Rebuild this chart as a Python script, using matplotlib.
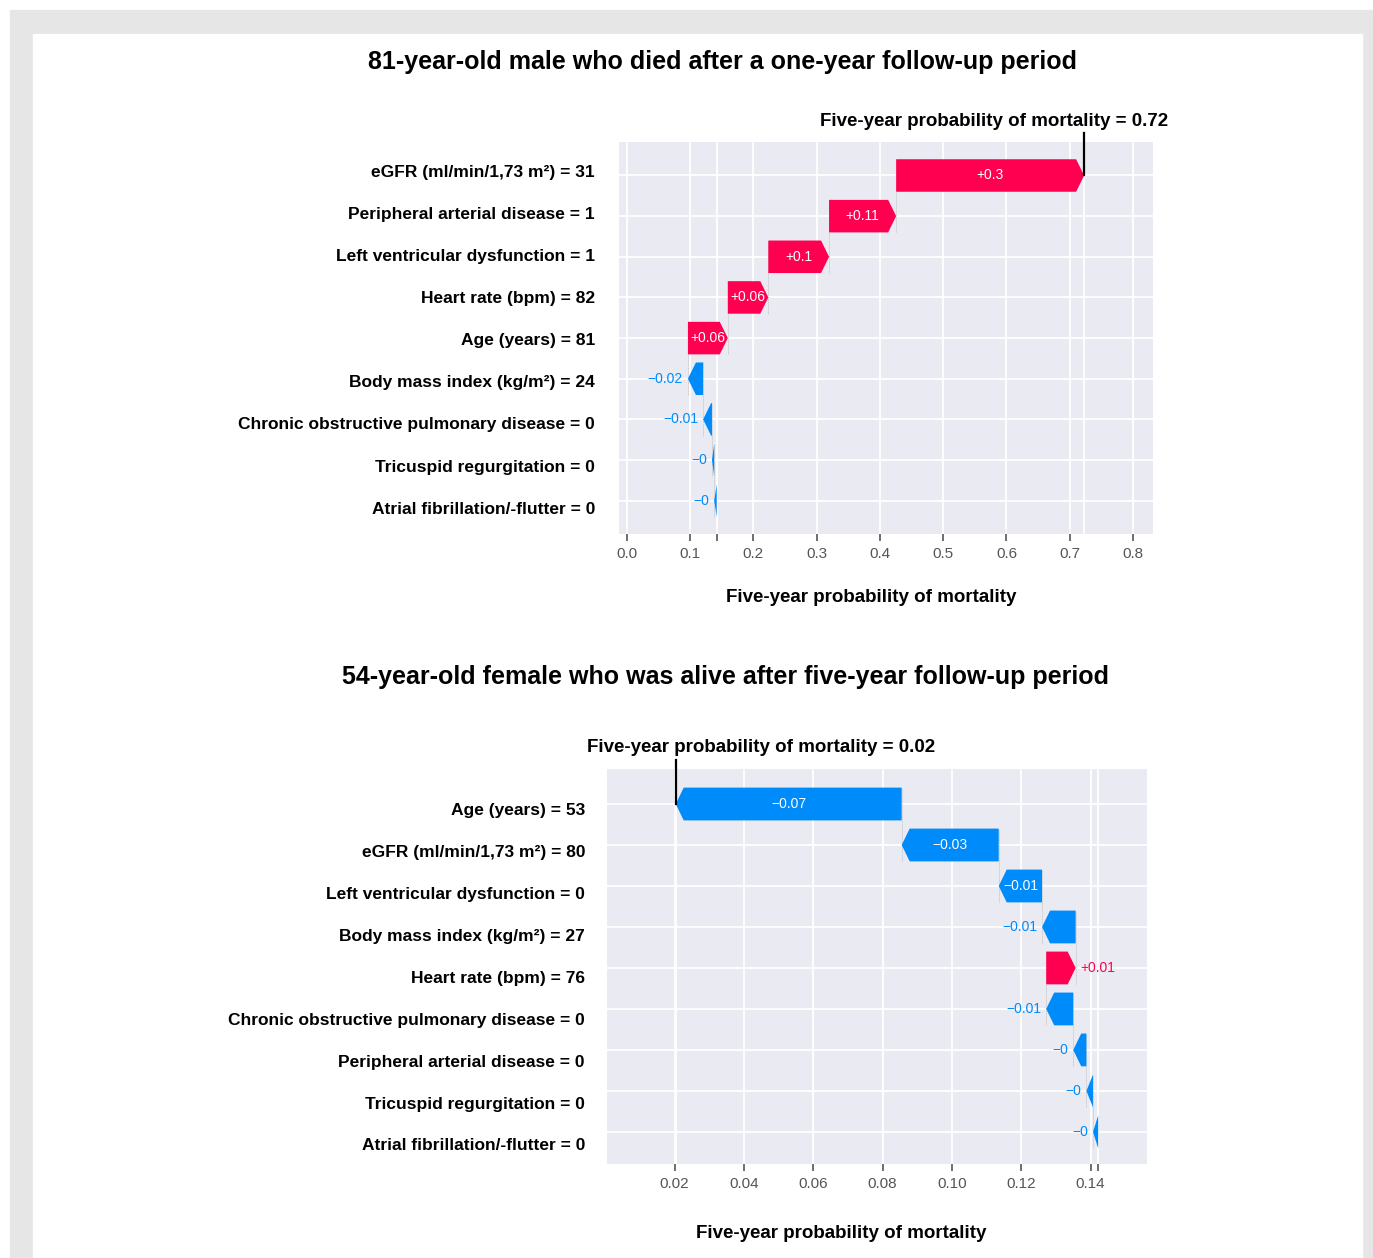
import matplotlib
matplotlib.use("Agg")
import matplotlib.pyplot as plt
from matplotlib.patches import Rectangle, FancyArrow

plt.rcParams['font.family'] = ['Liberation Sans', 'DejaVu Sans']

# ---------------------------------------------------------------- data
base_value = 0.1422

case1_title = "81-year-old male who died after a one-year follow-up period"
case1_features = [
    "eGFR (ml/min/1,73 m²) = 31",
    "Peripheral arterial disease = 1",
    "Left ventricular dysfunction = 1",
    "Heart rate (bpm) = 82",
    "Age (years) = 81",
    "Body mass index (kg/m²) = 24",
    "Chronic obstructive pulmonary disease = 0",
    "Tricuspid regurgitation = 0",
    "Atrial fibrillation/-flutter = 0",
]
case1_values = [0.297, 0.106, 0.096, 0.064, 0.063, -0.024, -0.014, -0.0035, -0.004]
case1_ticks = [0.0, 0.1, 0.2, 0.3, 0.4, 0.5, 0.6, 0.7, 0.8]
case1_tick_labels = ["0.0", "0.1", "0.2", "0.3", "0.4", "0.5", "0.6", "0.7", "0.8"]

case2_title = "54-year-old female who was alive after five-year follow-up period"
case2_features = [
    "Age (years) = 53",
    "eGFR (ml/min/1,73 m²) = 80",
    "Left ventricular dysfunction = 0",
    "Body mass index (kg/m²) = 27",
    "Heart rate (bpm) = 76",
    "Chronic obstructive pulmonary disease = 0",
    "Peripheral arterial disease = 0",
    "Tricuspid regurgitation = 0",
    "Atrial fibrillation/-flutter = 0",
]
case2_values = [-0.0652, -0.028, -0.0125, -0.0097, 0.0085, -0.0078, -0.0038, -0.0019, -0.0015]
case2_ticks = [0.02, 0.04, 0.06, 0.08, 0.10, 0.12, 0.14]
case2_tick_labels = ["0.02", "0.04", "0.06", "0.08", "0.10", "0.12", "0.14"]

outcome_label = "Five-year probability of mortality"

# ---------------------------------------------------------------- style
RED = "#ff0051"
BLUE = "#008bfb"
PANEL = "#eaeaf2"
FRAME = "#e5e6e5"
TICK_COLOR = "#555555"

W, H = 1373, 1258
DPI = 100
fig = plt.figure(figsize=(W / DPI, H / DPI), dpi=DPI, facecolor="white")


def px_box(x0, y0, x1, y1):
    """Pixel box (top-left origin) -> figure-fraction rect."""
    return [x0 / W, 1 - y1 / H, (x1 - x0) / W, (y1 - y0) / H]


# page frame
fig.add_artist(Rectangle((10 / W, 0), 1 - 10 / W, (H - 10) / H,
                         transform=fig.transFigure, color=FRAME, zorder=-10))
fig.add_artist(Rectangle((33 / W, 0), (1362 - 33) / W, (H - 34) / H,
                         transform=fig.transFigure, color="white", zorder=-9))


def fmt(v):
    s = ("%+0.02f" % v).rstrip("0").rstrip(".")
    return s.replace("-", "\u2212")


def waterfall(box, features, values, ticks, tick_labels, xlim, ylim,
              label_x_right, label_y0, label_step,
              fx_text_pos, xlabel_pos):
    ax = fig.add_axes(px_box(*box))
    ax.set_facecolor(PANEL)
    for s in ax.spines.values():
        s.set_visible(False)
    ax.set_xlim(*xlim)
    ax.set_ylim(*ylim)
    n = len(features)

    fx = base_value + sum(values)

    ax.set_xticks(list(ticks) + [base_value])
    ax.set_xticklabels(list(tick_labels) + [""])
    ax.tick_params(axis="x", length=5, width=1.2, color=TICK_COLOR,
                   labelcolor=TICK_COLOR, labelsize=11, pad=4.5)
    ax.set_yticks(range(n))
    ax.set_yticklabels([])
    ax.tick_params(axis="y", length=0)
    ax.grid(True, color="white", lw=1.3, zorder=0)
    ax.set_axisbelow(True)
    ax.axvline(fx, color="white", lw=1.3, zorder=0.5)

    # geometry for arrow heads and label fitting
    ax_w_px = box[2] - box[0]
    x_per_px = (xlim[1] - xlim[0]) / ax_w_px
    head_len = 8 * x_per_px
    renderer = fig.canvas.get_renderer()

    cum = base_value
    for r in reversed(range(n)):
        v = values[r]
        start = cum
        cum = start + v
        color = RED if v > 0 else BLUE
        ax.add_patch(FancyArrow(start, r, v, 0, width=0.8, head_width=0.8,
                                head_length=min(abs(v), head_len),
                                length_includes_head=True, color=color,
                                lw=0, zorder=3))
        if r > 0:
            ax.plot([cum, cum], [r + 0.4, r - 1.4], color="#bbbbbb",
                    lw=0.6, dashes=(1, 1), zorder=2)
        label = fmt(v)
        txt = ax.text(start + v / 2, r, label, color="white", ha="center",
                      va="center", fontsize=10, zorder=4)
        tw = txt.get_window_extent(renderer).width
        if tw > abs(v) / x_per_px:
            txt.remove()
            off = 5 * x_per_px
            if v > 0:
                ax.text(cum + off, r, label, color=color, ha="left",
                        va="center", fontsize=10, zorder=4)
            else:
                ax.text(cum - off, r, label, color=color, ha="right",
                        va="center", fontsize=10, zorder=4)

    # model output marker
    ax.plot([fx, fx], [ylim[1] - 0.22, 0], color="black", lw=1.6,
            clip_on=False, zorder=5)
    fig.text(fx_text_pos[0] / W, 1 - fx_text_pos[1] / H,
             "%s = %.2f" % (outcome_label, fx), ha="center", va="center",
             fontsize=13.5, fontweight="bold")

    # feature labels
    for i, name in enumerate(features):
        fig.text(label_x_right / W, 1 - (label_y0 + i * label_step) / H, name,
                 ha="right", va="center", fontsize=12.5, fontweight="bold")

    fig.text(xlabel_pos[0] / W, 1 - xlabel_pos[1] / H, outcome_label,
             ha="center", va="center", fontsize=13.5, fontweight="bold")
    return ax


fig.text(722 / W, 1 - 62 / H, case1_title, ha="center", va="center",
         fontsize=18, fontweight="bold")
waterfall((618.5, 142, 1153, 533.5), case1_features, case1_values,
          case1_ticks, case1_tick_labels,
          xlim=(-0.013, 0.8315), ylim=(8.807, -0.824),
          label_x_right=595, label_y0=173, label_step=42,
          fx_text_pos=(994, 122), xlabel_pos=(871, 598))

fig.text(725 / W, 1 - 677 / H, case2_title, ha="center", va="center",
         fontsize=18, fontweight="bold")
waterfall((607, 769, 1146.7, 1164.3), case2_features, case2_values,
          case2_ticks, case2_tick_labels,
          xlim=(0.00047, 0.1562), ylim=(8.79, -0.854),
          label_x_right=585, label_y0=810, label_step=42,
          fx_text_pos=(761, 748), xlabel_pos=(841, 1234))

fig.savefig("out.png", dpi=DPI, facecolor="white")
